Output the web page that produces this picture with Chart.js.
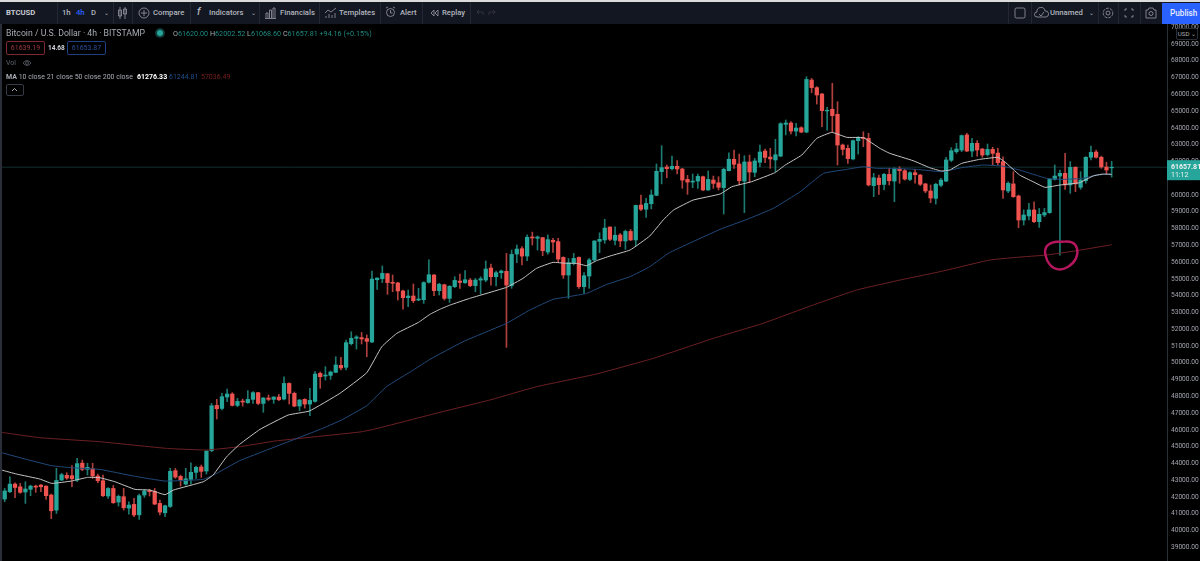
<!DOCTYPE html>
<html>
<head>
<meta charset="utf-8">
<title>BTCUSD</title>
<script src="https://cdn.jsdelivr.net/npm/chart.js@4"></script>
<style>
  html, body { margin: 0; padding: 0; background: #000; }
  body { width: 1200px; height: 561px; overflow: hidden; position: relative; font-family: Roboto, sans-serif; color: #a9acb5; }
  #chart { position: absolute; left: 0; top: 24px; }
  #topline { position: absolute; left: 0; top: 0; width: 1200px; height: 2px; background: #dcdcdc; }
  #bar { position: absolute; left: 0; top: 2px; width: 1200px; height: 22px; background: #131722; }
  #edge { position: absolute; left: 0; top: 24px; width: 2px; height: 537px; background: #2a2e39; }
  .t { position: absolute; white-space: nowrap; line-height: 10px; }
  .tb { font-size: 7.7px; font-weight: 500; top: 8px; color: #b2b5be; }
  .sep { position: absolute; top: 2px; width: 1px; height: 22px; background: #232733; }
  .ic { position: absolute; fill: none; stroke: #9a9da6; stroke-width: 0.8; }
  .lg { font-size: 7px; }
  .box { position: absolute; top: 41px; height: 12px; width: 37px; border-radius: 2px; font-size: 7px; line-height: 12px; text-align: center; }
</style>
</head>
<body>
<canvas id="chart" width="1200" height="537"></canvas>

<div id="topline"></div>
<div id="bar"></div>
<div id="edge"></div>

<span class="t tb" style="left:6px;font-weight:700;color:#c8cbd3">BTCUSD</span>
<span class="t tb" style="left:62px">1h</span>
<span class="t tb" style="left:76px;color:#2962ff">4h</span>
<span class="t tb" style="left:91px">D</span>
<span class="t tb" style="left:104px;font-size:6px">&#8964;</span>
<span class="t tb" style="left:153px">Compare</span>
<span class="t tb" style="left:209px">Indicators</span>
<span class="t tb" style="left:251px;font-size:6px">&#8964;</span>
<span class="t tb" style="left:280px">Financials</span>
<span class="t tb" style="left:339px">Templates</span>
<span class="t tb" style="left:400px">Alert</span>
<span class="t tb" style="left:442px">Replay</span>
<span class="t tb" style="left:197px;font-size:10px;top:7px;font-style:italic">f</span>
<span class="t tb" style="left:1050px">Unnamed</span>
<span class="t tb" style="left:1089px;font-size:6px">&#8964;</span>
<div style="position:absolute;left:1162px;top:3px;width:38px;height:21px;background:#2962ff"></div>
<span class="t tb" style="left:1170px;font-size:8.2px;color:#e8ecff">Publish</span>

<div class="sep" style="left:57px"></div><div class="sep" style="left:113px"></div>
<div class="sep" style="left:132px"></div><div class="sep" style="left:190px"></div>
<div class="sep" style="left:259px"></div><div class="sep" style="left:319px"></div>
<div class="sep" style="left:380px"></div><div class="sep" style="left:422px"></div>
<div class="sep" style="left:470px"></div><div class="sep" style="left:1008px"></div>
<div class="sep" style="left:1031px"></div><div class="sep" style="left:1098px"></div>
<div class="sep" style="left:1118px"></div><div class="sep" style="left:1140px"></div>

<svg class="ic" style="left:117px;top:6px" width="11" height="14"><path d="M3 1v12M1.5 4h3v6h-3zM8 1v12M6.5 3h3v5h-3z"/></svg>
<svg class="ic" style="left:138px;top:7px" width="12" height="12"><circle cx="6" cy="6" r="5"/><path d="M6 3v6M3 6h6"/></svg>
<svg class="ic" style="left:265px;top:7px" width="11" height="12"><path d="M1 11V6h2v5M4.500 11V3h2v8M8 11V1h2v10M0 11.500h11"/></svg>
<svg class="ic" style="left:324px;top:7px" width="13" height="12"><path d="M1 6l3-3 3 2 5-4M2 11V9M5 11V7M8 11V8M11 11V6"/></svg>
<svg class="ic" style="left:385px;top:6px" width="11" height="13"><circle cx="5.500" cy="6.500" r="4"/><path d="M5.500 4v3h2M1 2l2-1M10 2L8 1"/></svg>
<svg class="ic" style="left:430px;top:9px" width="9" height="8"><path d="M4 1L1 4l3 3zM8 1L5 4l3 3z"/></svg>
<svg class="ic" style="left:476px;top:9px;stroke:#3a3e4a" width="20" height="8"><path d="M1 3h6v3M1 3l2-2M1 3l2 2M19 3h-6v3M19 3l-2-2M19 3l-2 2"/></svg>
<svg class="ic" style="left:1014px;top:7px" width="12" height="12"><rect x="1" y="1" width="10" height="10" rx="1.500"/></svg>
<svg class="ic" style="left:1034px;top:7px" width="15" height="11"><path d="M4 10H3a2.500 2.500 0 0 1 0-5 4 4 0 0 1 8-1 3 3 0 0 1 1 6zM5 7l2 2 3-4"/></svg>
<svg class="ic" style="left:1102px;top:7px" width="12" height="12"><circle cx="6" cy="6" r="2"/><circle cx="6" cy="6" r="4.800" stroke-dasharray="3 1"/></svg>
<svg class="ic" style="left:1124px;top:8px" width="10" height="10"><path d="M1 3V1h2M7 1h2v2M9 7v2H7M3 9H1V7"/></svg>
<svg class="ic" style="left:1145px;top:7px" width="12" height="12"><path d="M1 3h2l1-2h4l1 2h2v8H1z"/><circle cx="6" cy="6.500" r="2"/></svg>

<span class="t" style="left:6px;top:28px;font-size:8.7px">Bitcoin / U.S. Dollar &middot; 4h &middot; BITSTAMP</span>
<div style="position:absolute;left:157px;top:30px;width:6px;height:6px;border-radius:50%;background:#26a69a;box-shadow:0 0 0 2px #123a37"></div>
<span class="t lg" style="left:173px;top:29px;font-size:7.2px;color:#1f8a80"><span style="color:#a9acb5">O</span>61620.00 <span style="color:#a9acb5">H</span>62002.52 <span style="color:#a9acb5">L</span>61068.60 <span style="color:#a9acb5">C</span>61657.81 +94.16 (+0.15%)</span>
<div class="box" style="left:6px;border:1px solid #7c2a30;color:#a03a40">61639.19</div>
<span class="t" style="left:48px;top:43px;font-size:6.5px;font-weight:700;color:#d1d4dc">14.68</span>
<div class="box" style="left:67px;border:1px solid #1f3f7f;color:#2a4f9f">61653.87</div>
<span class="t lg" style="left:6px;top:58px;color:#5d606b">Vol</span>
<svg class="ic" style="left:22px;top:59px;stroke:#5d606b" width="10" height="8"><path d="M1 4q4-5 8 0q-4 5-8 0z"/><circle cx="5" cy="4" r="1.500"/></svg>
<span class="t lg" style="left:6px;top:72px"><b>MA</b> 10 close 21 close 50 close 200 close</span>
<span class="t lg" style="left:137px;top:72px;color:#fff;font-weight:700">61276.33</span>
<span class="t lg" style="left:169px;top:72px;color:#1f4f8f">61244.81</span>
<span class="t lg" style="left:201px;top:72px;color:#7a1f1f">57036.49</span>
<div style="position:absolute;left:6px;top:84px;width:16px;height:10px;border:1px solid #363a45;border-radius:2px"></div>
<svg class="ic" style="left:11px;top:87px;stroke:#d1d4dc" width="7" height="5"><path d="M1 4l2.500-2.500L6 4"/></svg>

<div style="position:absolute;left:1176px;top:28px;width:20px;height:10px;background:#000;border:1px solid #2a2e39;border-radius:2px;font-size:6.2px;line-height:10px;text-align:center">USD &#8964;</div>

<script>
const opens = [
  41880,42320,42770,42610,42300,42460,42650,42710,42650,42120,
  41220,43010,43290,43270,43010,44020,43650,43690,43250,42970,
  42060,42510,41700,42020,41340,41560,40940,42120,42380,42340,
  41620,41060,41440,43570,43230,42770,43050,43470,43790,43550,
  44760,47460,47280,47960,48140,47460,47720,47620,47820,48220,
  47580,47900,47820,47960,47840,48770,48180,47420,47820,47540,
  47700,49370,49210,49250,49430,49850,49730,51140,51460,51500,
  51440,51240,54950,55010,55310,54800,54760,54280,53880,53980,
  53740,53760,54800,55230,54300,54650,53840,54540,54870,54770,
  54930,54600,54930,54930,55650,55130,55370,55450,54600,56480,
  56800,56360,57500,57420,57460,56600,57300,57220,56280,55230,
  55930,56280,54540,55170,56130,57240,57320,58090,57300,57620,
  57260,57830,57320,59400,59150,59480,59980,61390,61670,61570,
  61710,61550,60930,60770,60830,61090,60300,60890,60730,60440,
  61450,62130,61850,60830,61970,61350,61950,62620,62260,62090,
  62320,64210,64290,63810,64010,63750,66850,66400,66020,65010,
  65110,64810,62980,62780,62150,63240,63420,63380,60560,61010,
  60630,61230,60830,61550,61450,60930,61330,61190,60660,60240,
  59800,60580,60830,62070,62580,62680,63580,62620,63080,62740,
  62400,62720,62500,61990,60240,60660,59940,58510,58750,59110,
  58410,58810,58950,60930,61130,61290,60600,61650,60460,60850,
  62250,62560,62250,61670,61620
];
const closes = [
  42360,42770,42570,42280,42480,42650,42590,42610,42080,41180,
  42990,43330,43130,43090,43990,43650,43770,43250,42970,42080,
  42510,41660,42040,41360,41520,40930,42080,42360,42320,41580,
  41100,41480,43530,43190,43010,43090,43470,43770,43530,44740,
  47440,47260,47980,48140,47460,47700,47660,47820,48220,47580,
  47900,47820,47960,47800,48770,48180,47420,47780,47540,47760,
  49330,49170,49270,49450,49870,49690,51200,51460,51540,51420,
  51280,54990,55050,55330,54780,54740,54280,53880,53980,53700,
  53800,54780,55250,54300,54680,53840,54560,54910,54790,54950,
  54600,54930,55010,55590,55130,55370,55470,54630,56460,56780,
  56360,57480,57440,57500,56680,57340,57200,56180,55230,55970,
  56220,54540,55190,56130,57260,57360,58030,57360,57600,57260,
  57830,57320,59380,59150,59500,60000,61410,61630,61570,61710,
  61550,60890,60770,60830,61110,60300,60930,60690,60460,61530,
  62130,61830,60850,61970,61370,62030,62560,62240,62150,62400,
  64250,64290,63810,63990,63750,66890,66400,65960,65030,65050,
  64730,62980,62720,62170,63240,63420,63360,60600,61030,60620,
  61230,60850,61570,61450,60950,61330,61210,60640,60240,59820,
  60640,60890,62090,62640,62740,63540,62620,63080,62680,62380,
  62720,62480,61930,60300,60700,59900,58510,58810,59110,58410,
  58850,58950,60930,61130,61290,60600,61650,60660,60890,62250,
  62540,62250,61670,61490,61657.81
];
const highs = [
  42510,43210,42850,42810,42910,42710,42710,42750,42670,42180,
  43710,43410,43450,43870,44300,44200,44010,44010,43370,43310,
  42570,42690,42120,42510,41720,41920,42180,42460,42460,42510,
  41820,41520,43710,43710,43310,43710,44040,43850,43910,44760,
  47580,47820,48180,48440,48220,47880,47840,48340,48280,48240,
  47940,48080,47980,48120,49170,48810,48260,47820,47860,48480,
  49470,49450,49770,49510,50360,50320,51360,51850,51620,51810,
  51660,55470,55070,55770,55330,55230,54800,54340,54340,54700,
  54440,54830,56130,55270,54740,54690,54600,55130,55290,55490,
  55030,55030,55130,56070,55890,55470,55530,56520,56720,57020,
  56920,57620,57790,57560,57480,57620,57420,57420,56320,56220,
  56520,56320,55370,56220,57280,57750,58550,58110,58110,57710,
  57910,57950,59400,60000,59800,60300,61850,62940,61790,62320,
  62050,61590,61170,61250,61250,61130,61430,61130,61090,61590,
  62520,62680,62440,62340,62380,62180,62980,62740,62780,63320,
  64310,64470,64370,64270,64070,67050,66950,66460,66060,65220,
  66660,65560,63040,62980,63280,63480,63770,63680,61290,61190,
  61290,61590,61630,61690,61530,61390,61530,61230,60700,60600,
  60700,60990,62250,62820,63080,63580,63680,63380,63240,62780,
  63040,62840,62780,62280,60790,61390,60000,59110,59500,59600,
  59200,59200,60990,61790,61490,62480,61990,61690,61390,62280,
  62920,62680,62320,61950,62002.52
];
const lows = [
  41720,42260,41960,42220,41620,42080,42280,42320,41860,40710,
  41020,42970,43050,42610,42910,43570,43310,43110,42850,42020,
  41920,41620,41460,41220,40980,40830,40670,41980,42060,41540,
  40930,40830,41380,43110,42650,42710,42770,43110,43170,43370,
  44700,46650,47190,47680,47420,47380,47420,47580,47580,47500,
  47050,47740,47580,47740,47780,47540,47380,47150,47300,46850,
  47660,48480,48970,49010,49410,49570,49570,51060,50820,51120,
  50360,51200,54380,54780,54080,54240,53740,53200,53340,53580,
  53700,53540,54740,54000,54040,53740,53600,54480,54440,54730,
  54540,54240,54100,54830,54630,54580,55030,50920,54440,55970,
  55830,56090,57020,56720,56380,56480,56580,55970,55030,53840,
  55830,54440,54140,54440,56030,56560,57120,57280,57020,56920,
  56760,57280,56960,59070,58670,59170,59960,60660,61030,61490,
  61250,60400,60040,60440,60400,60260,60280,60400,60300,58870,
  61430,61590,60600,58950,60750,61090,61690,61930,61590,61390,
  62280,63580,63640,63520,63710,63710,66100,65420,64070,63870,
  63770,61790,62380,61890,62090,62440,62880,60540,59900,60040,
  60300,60600,59600,60700,60890,60850,60700,60560,60140,59540,
  59460,60500,60790,61990,62480,62580,62580,62280,62320,62250,
  62320,61790,61790,59800,60140,59860,58050,58210,58510,58350,
  58070,58710,58910,60890,56420,60340,60100,60200,60340,60700,
  62090,62190,61590,61250,61068.6
];

// moving averages, read at the bends of each line (x = candle number)
const maWhiteX = [-0.6,2.3,6.8,9.1,12.9,16,18.4,21.3,25.2,28.1,31,32.6,38.4,40.3,42.9,45.4,49.35,54.8,58.9,64.8,70,72.9,75.8,80,82.2,84.1,86.1,89.9,97,100.2,102.8,106,108.6,110.6,112.5,114.4,117,120.9,124.7,127.3,129.3,133.1,138.3,140.6,144.4,148.9,150.9,154.1,157,159.9,162.8,166,169.2,171.1,175.6,178.8,181.1,182.7,185,188.5,192,193.3,196.2,198.8,201.1,204,207.8,210.4,212.3,214];
const maWhiteY = [43607,43369,43071,42812,42952,43170,43150,42912,42455,42415,42137,42415,42912,43309,44402,45137,46032,46886,47125,48178,49410,50960,51754,52410,52887,53185,53442,53840,54495,55032,55628,55986,55926,55926,55787,56085,56363,56721,57555,58509,59105,59700,60058,60496,60794,61330,61787,62383,63377,63734,63436,63416,62780,62483,62046,61629,61430,61490,61887,62125,62245,61986,61191,60794,60456,60595,60734,61132,61251,61231];
const maBlueX = [-0.6,4.2,9.1,12.9,18.4,24.9,31,38.4,41,45.4,61,65.1,70,73.8,79,82.2,88.6,97,101.5,106,109,112.5,116.4,120.9,124.7,128.5,138.3,143.5,148.6,153.8,158.3,162.8,166,168.6,171.1,176.3,181.1,185,189.1,192.7,196.2,201.4,204.6,208.5,211,214];
const maBlueY = [44641,44243,43866,43746,43647,43250,42952,43051,43409,44164,46032,46588,47443,48575,49569,50204,51257,52349,53144,53780,53939,54138,54674,55131,55727,56562,57952,58548,59204,60198,61290,61529,61688,61588,61589,61529,61390,61629,61788,61728,61490,60993,60933,60993,61191,61251];
const maRedX = [-0.6,6.8,18.4,31.3,39,45.4,52.3,68.7,71.3,84.1,93.8,102.8,114.4,125.4,137,146.6,156.3,164.7,173.1,180.8,190.4,195.6,201.4,207.2,214];
const maRedY = [45853,45535,45296,44899,44800,44998,45339,45875,46032,47045,47781,48575,49331,50264,51457,52351,53444,54338,54934,55429,56125,56284,56423,56681,57036];

// hand drawn pink ring on the chart
const ringX = [204,206.3,207.3,207.1,205.6,203.7,202.1,201.2,201.4,202.7,204];
const ringY = [57217,57178,56820,56224,55727,55568,55827,56423,56919,57178,57217];

const priceTicks = [39000,40000,41000,42000,43000,44000,45000,46000,47000,48000,49000,50000,51000,52000,53000,54000,55000,56000,57000,58000,59000,60000,61000,62000,63000,64000,65000,66000,67000,68000,69000,70000];
const lastPrice = 61657.81;
const countdown = "11:12";
const xMin = -0.909, xMax = 224.7;
const yMin = 38187, yMax = 70192;

const upColor = "#26a69a";
const downColor = "#ef5350";
const upWick = "#1c7a71";
const downWick = "#b0403d";

const bodyColors = closes.map((c, i) => (c >= opens[i] ? upColor : downColor));
const wickColors = closes.map((c, i) => (c >= opens[i] ? upWick : downWick));
const bodies = closes.map((c, i) => ({ x: i, y: [opens[i], c] }));
const wicks = highs.map((h, i) => ({ x: i, y: [lows[i], h] }));
const toPoints = (xs, ys) => xs.map((x, i) => ({ x: x, y: ys[i] }));

const lineStyle = { type: "line", pointRadius: 0, borderWidth: 1, tension: 0.1, fill: false };

const priceTag = {
  id: "priceTag",
  afterDraw(chart) {
    const ctx = chart.ctx;
    const y = chart.scales.y.getPixelForValue(lastPrice);
    const left = chart.chartArea.right;
    ctx.save();
    ctx.fillStyle = upColor;
    ctx.fillRect(left, y - 7, 33, 20);
    ctx.fillStyle = "#f0f0f0";
    ctx.font = "700 7px Roboto";
    ctx.textBaseline = "middle";
    ctx.fillText(lastPrice.toFixed(2), left + 4, y);
    ctx.font = "7px Roboto";
    ctx.fillText(countdown, left + 4, y + 8);
    ctx.restore();
  }
};

new Chart(document.getElementById("chart"), {
  type: "bar",
  plugins: [priceTag],
  data: {
    datasets: [
      { type: "line", data: toPoints(ringX, ringY), order: 0, pointRadius: 0, borderWidth: 2.4, tension: 0.4, borderColor: "#b5175f", fill: false },
      { ...lineStyle, data: toPoints(maWhiteX, maWhiteY), order: 1, borderColor: "#c4c4c4" },
      { ...lineStyle, data: toPoints(maBlueX, maBlueY), order: 1, borderColor: "#21497a" },
      { ...lineStyle, data: toPoints(maRedX, maRedY), order: 1, borderColor: "#6e2024" },
      { data: bodies, order: 2, backgroundColor: bodyColors, barThickness: 3.6, grouped: false },
      { data: wicks, order: 3, backgroundColor: wickColors, barThickness: 1, grouped: false },
      { type: "line", data: toPoints([xMin, xMax], [lastPrice, lastPrice]), order: 4, pointRadius: 0, borderWidth: 1, borderColor: "#12302e", fill: false }
    ]
  },
  options: {
    responsive: false,
    animation: false,
    layout: { padding: 0 },
    plugins: { legend: { display: false }, tooltip: { enabled: false } },
    scales: {
      x: { type: "linear", min: xMin, max: xMax, offset: false, display: false },
      y: {
        position: "right",
        min: yMin,
        max: yMax,
        grid: { display: false, drawTicks: false },
        border: { color: "#2a2e39" },
        afterBuildTicks(axis) { axis.ticks = priceTicks.map((v) => ({ value: v })); },
        afterFit(axis) { axis.width = 33; axis.paddingTop = 0; axis.paddingBottom = 0; },
        ticks: {
          autoSkip: false,
          padding: 4,
          color: "#a3a6af",
          font: { family: "Roboto", size: 6.6 },
          callback: (v) => v.toFixed(2)
        }
      }
    }
  }
});
</script>
</body>
</html>
